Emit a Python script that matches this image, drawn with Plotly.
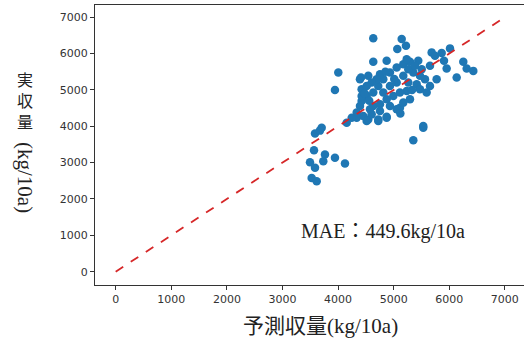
import plotly.graph_objects as go

# Predicted yield (kg/10a)
predicted = [3585, 3705, 3567, 3495, 3585, 3764, 3734, 3944, 4124, 3525, 3615, 5353, 5532,
             4155, 4335, 4514, 4723, 4874, 5077, 3674,
             4633, 5144, 5221, 5065, 4004, 3944, 4633, 4874, 5683, 5863, 6013, 5905, 6252,
             6313, 6432, 6133, 5953, 4412, 4424, 4514, 4424, 4633, 4723, 4813, 4933, 5054,
             5173, 5293, 5442, 5353, 5504, 5653, 5563, 5653, 5414, 5263, 5234, 5113, 4993,
             4874, 4754, 4574, 4453, 4335, 4245, 5113, 5054, 4874, 4723, 4543, 5532,
             4754, 4694, 4604, 4514, 4633, 4813, 4933, 5054, 5173, 5263, 5383, 5473, 5293,
             5173, 4933, 4754, 4604, 4394, 4424, 4543, 4394, 5473, 5593, 5743, 5234, 5773,
             4480, 4560, 5010, 5330, 5120, 4850]
# Actual yield (kg/10a)
actual = [3803, 3960, 3342, 3010, 2856, 3223, 3038, 3132, 2974, 2579, 2486, 3618, 3960,
          4098, 4236, 4142, 4142, 4264, 4466, 3880,
          6418, 6399, 6214, 6123, 5479, 4999, 5772, 5800, 6032, 6012, 6142, 5800, 5772,
          5590, 5523, 5341, 5590, 5341, 5018, 4833, 4695, 4557, 5109, 5294, 5479, 5617,
          5708, 5772, 5800, 5479, 5570, 5662, 5294, 5109, 5156, 5203, 4971, 4927, 4833,
          4742, 4604, 4466, 4281, 4375, 4236, 4512, 4466, 4236, 4189, 4189, 4005,
          5432, 5294, 5203, 5109, 4927, 4927, 5109, 5203, 5386, 5570, 5662, 5386, 4742,
          4650, 4557, 4419, 4327, 4557, 4833, 5386, 5294, 5018, 4927, 5938, 5846, 5294,
          4900, 4700, 5300, 5000, 4350, 5500]

diag = [0, 7000]
x_ticks = [0, 1000, 2000, 3000, 4000, 5000, 6000, 7000]
y_ticks = [0, 1000, 2000, 3000, 4000, 5000, 6000, 7000]
mae_text = "MAE：449.6kg/10a"
x_title = "予測収量(kg/10a)"
y_title_cjk = "実<br>収<br>量"
y_title_unit = "(kg/10a)"

serif = "Liberation Serif, Noto Sans CJK JP, serif"

W, H = 524, 339
pl, pr, pt, pb = 95, 0, 5, 54

def px_to_paper(xp, yp):
    return (xp - pl) / (W - pl - pr), (H - pb - yp) / (H - pt - pb)

fig = go.Figure()
fig.add_trace(go.Scatter(x=predicted, y=actual, mode="markers",
                         marker=dict(color="#1f77b4", size=8.5, line=dict(width=0)),
                         showlegend=False))
fig.add_trace(go.Scatter(x=diag, y=diag, mode="lines",
                         line=dict(color="#d62728", width=1.8, dash="dash"),
                         showlegend=False))

fig.add_annotation(x=4800, y=1096, xref="x", yref="y", text=mae_text, showarrow=False,
                   xanchor="center", yanchor="middle",
                   font=dict(family=serif, size=20, color="#222"))

xx, yy = px_to_paper(320, 326)
fig.add_annotation(x=xx, y=yy, xref="paper", yref="paper", text=x_title, showarrow=False,
                   xanchor="center", yanchor="middle",
                   font=dict(family=serif, size=21, color="#222"))
xx, yy = px_to_paper(25, 101)
fig.add_annotation(x=xx, y=yy, xref="paper", yref="paper", text=y_title_cjk, showarrow=False,
                   xanchor="center", yanchor="middle",
                   font=dict(family=serif, size=16, color="#222"))
xx, yy = px_to_paper(25, 177)
fig.add_annotation(x=xx, y=yy, xref="paper", yref="paper", text=y_title_unit, showarrow=False,
                   xanchor="center", yanchor="middle",
                   textangle=90, font=dict(family=serif, size=21, color="#222"))

fig.update_layout(
    width=W, height=H,
    margin=dict(l=pl, r=pr, t=pt, b=pb, autoexpand=False),
    plot_bgcolor="white", paper_bgcolor="white",
    xaxis=dict(range=[-372, 7344], tickvals=x_ticks, showgrid=False, zeroline=False,
               showline=True, linecolor="#333", linewidth=1, mirror=True,
               ticks="outside", ticklen=4, tickcolor="#333", automargin=False,
               tickfont=dict(family="DejaVu Sans", size=11, color="#333")),
    yaxis=dict(range=[-366, 7335], tickvals=y_ticks, showgrid=False, zeroline=False,
               showline=True, linecolor="#333", linewidth=1, mirror=False,
               ticks="outside", ticklen=4, tickcolor="#333", automargin=False,
               tickfont=dict(family="DejaVu Sans", size=11, color="#333")),
)

fig.write_html("out.html", config={"displayModeBar": False},
               post_script="document.body.style.margin='0';")
